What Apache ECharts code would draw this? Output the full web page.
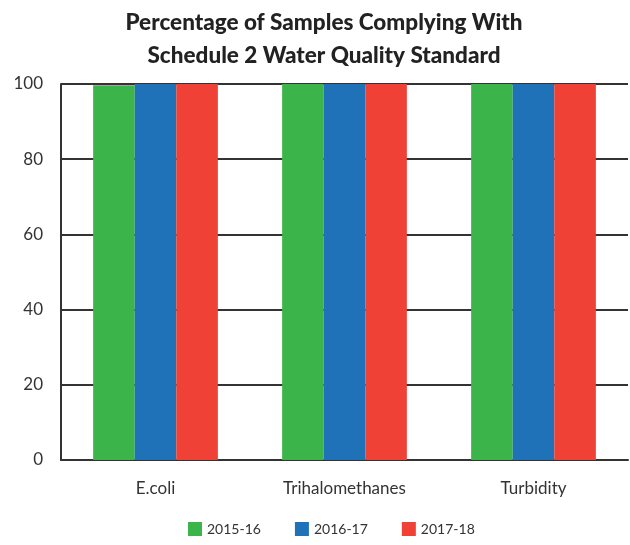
<!DOCTYPE html>
<html><head><meta charset="utf-8">
<script src="https://cdn.jsdelivr.net/npm/echarts@6/dist/echarts.min.js"></script>
<style>html,body{margin:0;padding:0;background:#fff}#c{width:630px;height:545px}</style>
</head><body><div id="c"></div>
<script>
var categories = ['E.coli', 'Trihalomethanes', 'Turbidity'];
var seriesNames = ['2015-16', '2016-17', '2017-18'];
var v2015 = [99.7, 100, 100];
var v2016 = [100, 100, 100];
var v2017 = [100, 100, 100];
var yTicks = [0, 20, 40, 60, 80, 100];
var colors = ['#3bb54a', '#1f71b8', '#ef4136'];
var font = 'Lato, "Open Sans", sans-serif';
var chart = echarts.init(document.getElementById('c'), null, {renderer: 'canvas'});
var vals = [v2015, v2016, v2017];
chart.setOption({
  animation: false,
  color: colors,
  graphic: [{
    type: 'text', x: 324, y: 6,
    style: {
      text: 'Percentage of Samples Complying With\nSchedule 2 Water Quality Standard',
      align: 'center', verticalAlign: 'top',
      fontFamily: font, fontWeight: 900, fontSize: 22.5, lineHeight: 33, fill: '#222'
    }
  }],
  legend: {
    bottom: 4, left: 183, itemWidth: 14, itemHeight: 14, itemGap: 34,
    icon: 'rect',
    textStyle: {fontFamily: font, fontSize: 14, color: '#333'}
  },
  grid: {left: 61, right: 2, top: 84, bottom: 85, containLabel: false},
  xAxis: {
    type: 'category', data: categories,
    axisLine: {lineStyle: {color: '#333', width: 2}},
    axisTick: {show: false},
    axisLabel: {fontFamily: font, fontSize: 17, color: '#333', margin: 20}
  },
  yAxis: {
    type: 'value', min: yTicks[0], max: yTicks[yTicks.length - 1], interval: 20,
    axisLine: {show: true, lineStyle: {color: '#333', width: 2}},
    axisTick: {show: false},
    splitLine: {lineStyle: {color: '#333', width: 2}},
    axisLabel: {fontFamily: font, fontSize: 17, color: '#333', margin: 18}
  },
  series: seriesNames.map(function (n, i) {
    return {name: n, type: 'bar', data: vals[i], barGap: '0%', barCategoryGap: '34%'};
  })
});
</script></body></html>
